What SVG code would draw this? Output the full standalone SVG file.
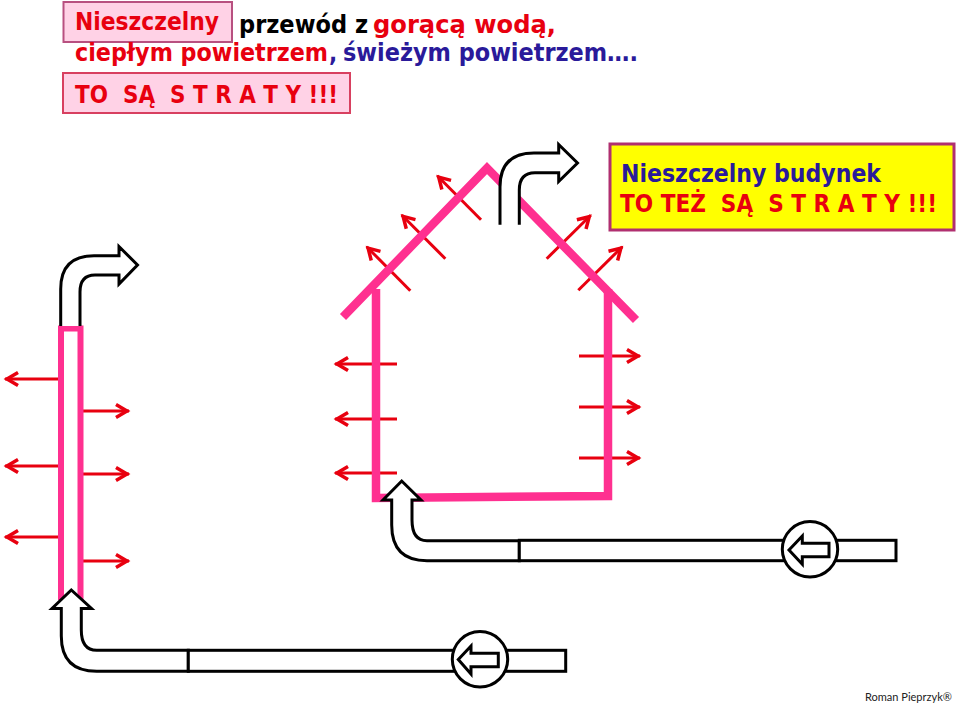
<svg xmlns="http://www.w3.org/2000/svg" width="960" height="707" viewBox="0 0 960 707">
<style>
text{font-family:"DejaVu Sans","Noto Sans",sans-serif;font-stretch:condensed;font-weight:700;font-size:24px}
.r{fill:#E8000F}.b{fill:#2A1A9A}.k{fill:#000}
.pb{fill:#FFD2E6;stroke-width:2}
.pink{fill:none;stroke:#FF3090;stroke-width:8.500}
.pipe{fill:none;stroke:#FF3090;stroke-width:6}
.blk{fill:#fff;stroke:#000;stroke-width:3;stroke-linejoin:miter}
.leak{stroke:#E8000F;stroke-width:3;fill:none;marker-end:url(#head)}
</style>
<defs>
<marker id="head" markerUnits="userSpaceOnUse" markerWidth="20" markerHeight="20" refX="16" refY="9" orient="auto" overflow="visible">
<path d="M3,2.500 L14,9 L3,15.500" fill="none" stroke="#E8000F" stroke-width="3.500"/>
</marker>
</defs>
<rect width="960" height="707" fill="#fff"/>

<g id="connectors">
<line class="leak" x1="60" y1="379" x2="5" y2="379"/>
<line class="leak" x1="60" y1="466" x2="5" y2="466"/>
<line class="leak" x1="60" y1="537" x2="5" y2="537"/>
<line class="leak" x1="81" y1="411" x2="129" y2="411"/>
<line class="leak" x1="81" y1="474" x2="129" y2="474"/>
<line class="leak" x1="81" y1="561" x2="129" y2="561"/>
<line class="leak" x1="397" y1="364" x2="335" y2="364"/>
<line class="leak" x1="397" y1="419" x2="335" y2="419"/>
<line class="leak" x1="397" y1="473" x2="335" y2="473"/>
<line class="leak" x1="579" y1="356" x2="640" y2="356"/>
<line class="leak" x1="579" y1="407" x2="640" y2="407"/>
<line class="leak" x1="579" y1="458" x2="640" y2="458"/>
<line class="leak" x1="410.300" y1="290.700" x2="366.700" y2="246.700"/>
<line class="leak" x1="445.300" y1="258.700" x2="401.700" y2="215"/>
<line class="leak" x1="481" y1="219.700" x2="437.300" y2="175.700"/>
<line class="leak" x1="546.700" y1="258.700" x2="590.700" y2="215.300"/>
<line class="leak" x1="578.300" y1="290.300" x2="622.300" y2="246.700"/>
</g>

<g id="house">
<path class="pink" d="M343,317 L487,168 L636,320"/>
<path class="pink" d="M376,289 V498 L608,496 V289"/>
</g>
<g id="pipe-left">
<path class="pipe" d="M61,600 V328.500 H80.500 V600"/>
</g>

<g id="arrow-roof">
<path class="blk" d="M500,224.700 V187 Q500,153 534,153 H558.700 V144.500 L577.500,163 L558.700,181.500 V172.700 H535 Q519.300,172.700 519.300,190 V224.700"/>
</g>
<g id="arrow-pipe-top">
<path class="blk" d="M60.700,326 V289 Q60.700,255.700 94,255.700 H119 V246.500 L137.500,265 L119,284 V275 H95 Q80,275 80,292 V326"/>
</g>

<g id="duct-left">
<path class="blk" d="M188.300,671.300 H96.700 Q61.300,671.300 61.300,636 V608.500 H52 L71.300,590 L91.500,608.500 H81.300 V630 Q81.300,650.300 96.700,650.300 H188.300 Z"/>
<rect class="blk" x="188.300" y="650.300" width="377.400" height="21"/>
</g>
<g id="pump-left">
<circle class="blk" cx="480" cy="659.300" r="27.700"/>
<path class="blk" d="M458.300,659.500 L471,646 V653.300 H498.300 V666.700 H471 V674 Z"/>
</g>
<g id="duct-house">
<path class="blk" d="M519.300,560.700 H427 Q391.700,560.700 391.700,525 V500 H383 L401.700,481 L421,500 H412 V520 Q412,540.700 427,540.700 H519.300 Z"/>
<rect class="blk" x="519.300" y="540.300" width="376.700" height="20.400"/>
</g>
<g id="pump-house">
<circle class="blk" cx="810" cy="549.300" r="27.700"/>
<path class="blk" d="M789,550 L802.300,536 V543.300 H829 V556.700 H802.300 V564.300 Z"/>
</g>

<g id="title">
<rect class="pb" x="63.500" y="2" width="168.500" height="40" stroke="#B85080"/>
<text class="r" x="75" y="30" textLength="144" lengthAdjust="spacingAndGlyphs">Nieszczelny</text>
<text class="k" x="239" y="33" textLength="129" lengthAdjust="spacingAndGlyphs">przewód z</text>
<text class="r" x="373" y="33" textLength="183" lengthAdjust="spacingAndGlyphs">gorącą wodą,</text>
<text class="r" x="75" y="61" textLength="253" lengthAdjust="spacingAndGlyphs">ciepłym powietrzem</text>
<text class="b" x="329" y="61">,</text>
<text class="b" x="343" y="61" textLength="295" lengthAdjust="spacingAndGlyphs">świeżym powietrzem….</text>
<rect class="pb" x="63" y="73" width="287" height="40" stroke="#D84060"/>
<text class="r" x="75" y="103" textLength="263" lengthAdjust="spacingAndGlyphs" xml:space="preserve">TO  SĄ  S T R A T Y !!!</text>
</g>

<g id="note">
<rect x="610" y="144" width="344" height="86" fill="#FFFF00" stroke="#B03070" stroke-width="3"/>
<text class="b" x="621" y="182" textLength="260" lengthAdjust="spacingAndGlyphs">Nieszczelny budynek</text>
<text class="r" x="620" y="212" textLength="317" lengthAdjust="spacingAndGlyphs" xml:space="preserve">TO TEŻ  SĄ  S T R A T Y !!!</text>
</g>

<g id="credit">
<text x="865" y="701" style="font-family:Lato,'Liberation Sans',sans-serif;font-stretch:normal;font-size:12px;font-weight:400;fill:#222" textLength="87" lengthAdjust="spacingAndGlyphs">Roman Pieprzyk®</text>
</g>
</svg>
